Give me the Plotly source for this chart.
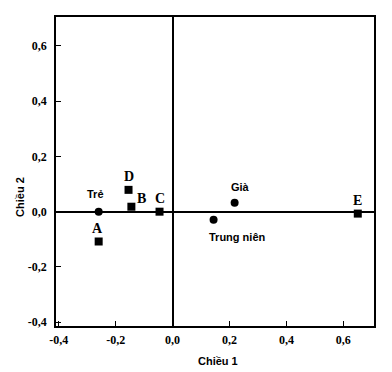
import plotly.graph_objects as go

# Data
group_names = ["Trẻ", "Già", "Trung niên"]
group_x = [-0.26, 0.218, 0.144]
group_y = [0.0, 0.032, -0.029]

cat_names = ["A", "B", "C", "D", "E"]
cat_x = [-0.26, -0.145, -0.046, -0.155, 0.651]
cat_y = [-0.108, 0.018, 0.0, 0.079, -0.007]

tick_vals = [-0.4, -0.2, 0.0, 0.2, 0.4, 0.6]
tick_text = ["-0,4", "-0,2", "0,0", "0,2", "0,4", "0,6"]

# label offsets (pixels)
group_shift = [(-3, 18), (6, 16), (24, -17)]
cat_shift = [(-1, 13), (10, 8), (0, 13), (0, 13), (0, 13)]

fig = go.Figure()
fig.add_trace(go.Scatter(
    x=group_x, y=group_y, mode="markers",
    marker=dict(symbol="circle", size=8, color="black"),
    showlegend=False, cliponaxis=False))
fig.add_trace(go.Scatter(
    x=cat_x, y=cat_y, mode="markers",
    marker=dict(symbol="square", size=8, color="black"),
    showlegend=False, cliponaxis=False))

annotations = []
for name, x, y, (dx, dy) in zip(group_names, group_x, group_y, group_shift):
    annotations.append(dict(text=name, x=x, y=y, xshift=dx, yshift=dy, showarrow=False,
                            xanchor="center", yanchor="middle",
                            font=dict(family="Liberation Sans", size=11, color="black", weight="bold")))
for name, x, y, (dx, dy) in zip(cat_names, cat_x, cat_y, cat_shift):
    annotations.append(dict(text=name, x=x, y=y, xshift=dx, yshift=dy, showarrow=False,
                            xanchor="center", yanchor="middle",
                            font=dict(family="Liberation Serif", size=14, color="black", weight="bold")))

annotations += [
    dict(text="Chiều 1", x=0.51, y=-0.112, xref="paper", yref="paper",
         xanchor="center", yanchor="middle", showarrow=False,
         font=dict(family="Liberation Sans", size=11, color="black", weight="bold")),
    dict(text="Chiều 2", x=-0.113, y=0.418, xref="paper", yref="paper", textangle=-90,
         xanchor="center", yanchor="middle", showarrow=False,
         font=dict(family="Liberation Sans", size=11, color="black", weight="bold")),
]

axis_common = dict(
    tickvals=tick_vals, ticktext=tick_text, ticks="inside", ticklen=5,
    tickcolor="black", showline=True, linecolor="black", linewidth=1.5,
    mirror=True, showgrid=False, zeroline=True, zerolinecolor="black",
    zerolinewidth=1.5,
    tickfont=dict(family="Liberation Serif", size=12, color="black", weight="bold"),
)

fig.update_layout(
    width=384, height=364,
    margin=dict(l=48, r=18, t=7, b=46),
    paper_bgcolor="white", plot_bgcolor="white",
    xaxis=dict(range=[-0.41, 0.708], ticklabelstandoff=2, **axis_common),
    yaxis=dict(range=[-0.414, 0.705], ticklabelstandoff=5, **axis_common),
    annotations=annotations,
)

fig.write_html("out.html")
